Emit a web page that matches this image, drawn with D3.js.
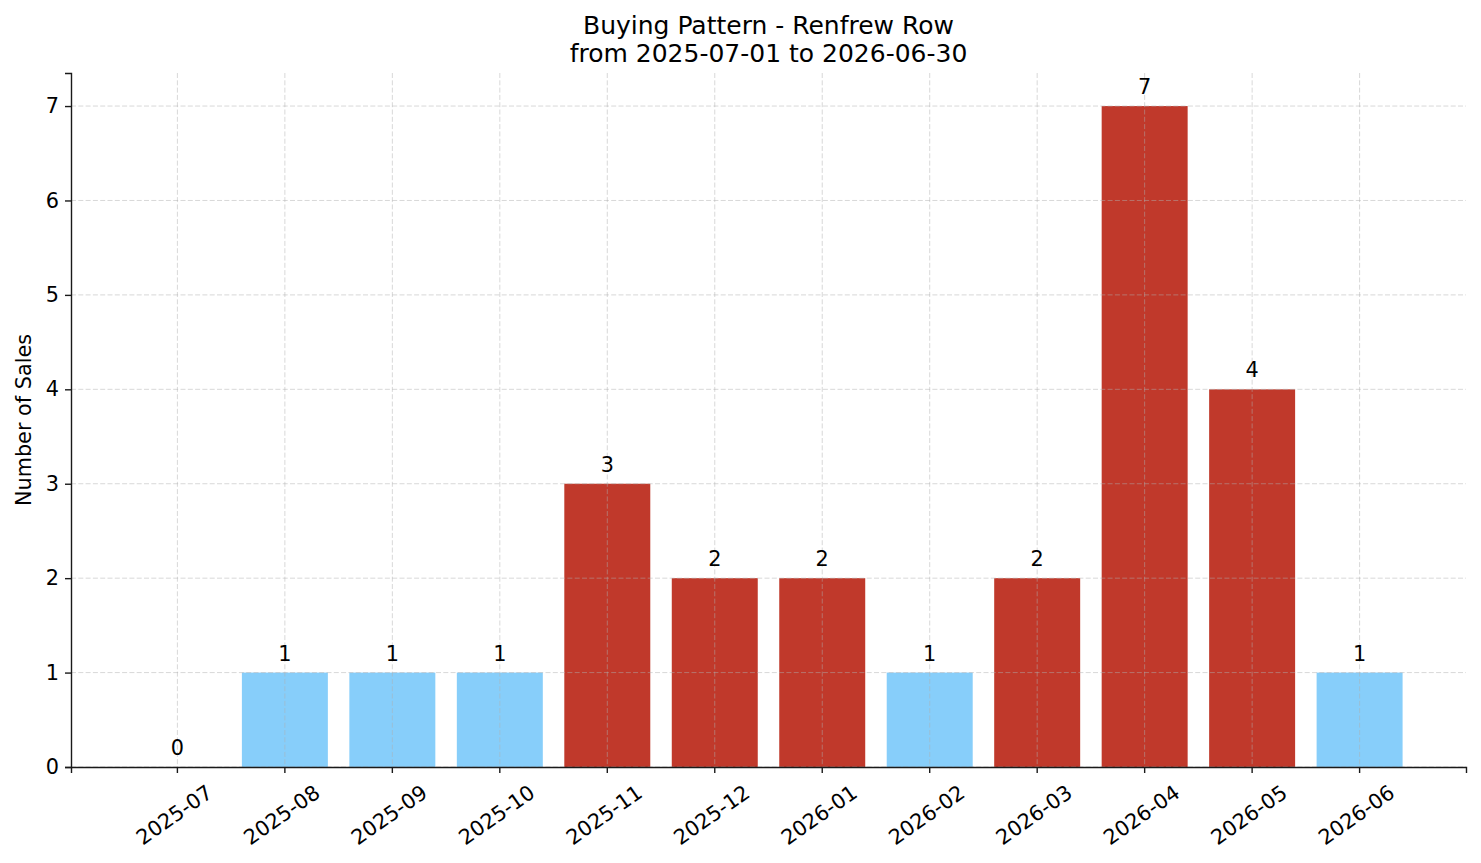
<!DOCTYPE html>
<html>
<head>
<meta charset="utf-8">
<script src="https://cdn.jsdelivr.net/npm/d3@7"></script>
<style>
  body { margin: 0; background: #fff; }
  text { font-family: "DejaVu Sans", sans-serif; fill: #000; }
</style>
</head>
<body>
<div id="chart"></div>
<script>
var w = 1481; // page width
var h = 863;  // page height
var margin = { left: 71, right: 15, top: 73, bottom: 96 };
var fontSize = "20.8px";

// Data
var months = ["2025-07", "2025-08", "2025-09", "2025-10", "2025-11", "2025-12",
              "2026-01", "2026-02", "2026-03", "2026-04", "2026-05", "2026-06"];
var sales = [0, 1, 1, 1, 3, 2, 2, 1, 2, 7, 4, 1];
var yTicks = [0, 1, 2, 3, 4, 5, 6, 7];
var titleLines = ["Buying Pattern - Renfrew Row", "from 2025-07-01 to 2026-06-30"];

var svg = d3.select("#chart")
    .append("svg")
    .attr("width", w)
    .attr("height", h);

var xScale = d3.scaleBand()
    .domain(months)
    .range([margin.left, w - margin.right])
    .paddingInner(0.2)
    .paddingOuter(0.59);

var yScale = d3.scaleLinear()
    .domain([0, d3.max(sales) * 1.05])
    .range([h - margin.bottom, margin.top]);

// Bars
svg.selectAll("rect.bar")
    .data(months)
    .enter()
    .append("rect")
    .attr("class", "bar")
    .attr("x", function(d) { return xScale(d); })
    .attr("y", function(d, i) { return yScale(sales[i]); })
    .attr("width", xScale.bandwidth())
    .attr("height", function(d, i) { return yScale(0) - yScale(sales[i]); })
    .attr("fill", function(d, i) { return sales[i] >= 2 ? "#c0392b" : "#87cefa"; });

// Grid lines (drawn over the bars like the original)
var grid = svg.append("g").attr("class", "grid");
grid.selectAll("line.hg")
    .data(yTicks)
    .enter()
    .append("line")
    .attr("x1", margin.left)
    .attr("x2", w - margin.right)
    .attr("y1", function(d) { return yScale(d); })
    .attr("y2", function(d) { return yScale(d); });
grid.selectAll("line.vg")
    .data(months)
    .enter()
    .append("line")
    .attr("x1", function(d) { return xScale(d) + xScale.bandwidth() / 2; })
    .attr("x2", function(d) { return xScale(d) + xScale.bandwidth() / 2; })
    .attr("y1", margin.top)
    .attr("y2", h - margin.bottom);
grid.selectAll("line")
    .attr("stroke", "#b0b0b0")
    .attr("stroke-opacity", 0.55)
    .attr("stroke-width", 0.9)
    .attr("stroke-dasharray", "5,2.3");

// Value labels
svg.selectAll("text.val")
    .data(months)
    .enter()
    .append("text")
    .attr("class", "val")
    .attr("x", function(d) { return xScale(d) + xScale.bandwidth() / 2; })
    .attr("y", function(d, i) { return yScale(sales[i] + 0.1) - 2.5; })
    .attr("text-anchor", "middle")
    .style("font-size", fontSize)
    .text(function(d, i) { return sales[i]; });

// Axes
var xAxis = svg.append("g")
    .attr("transform", "translate(0," + (h - margin.bottom) + ")")
    .call(d3.axisBottom(xScale).tickSizeOuter(0).tickSize(6).tickPadding(6));
xAxis.selectAll("text")
    .style("font-size", fontSize)
    .attr("text-anchor", "middle")
    .attr("dy", null)
    .attr("y", null)
    .attr("dominant-baseline", "central")
    .attr("transform", "translate(-3,48) rotate(-35)");

var yAxis = svg.append("g")
    .attr("transform", "translate(" + margin.left + ",0)")
    .call(d3.axisLeft(yScale).tickValues(yTicks).tickSizeOuter(0).tickSize(6).tickPadding(6));
yAxis.selectAll("text").style("font-size", fontSize);

svg.selectAll(".domain").attr("stroke", "#1a1a1a").attr("stroke-width", 1.4);
svg.selectAll(".tick line").attr("stroke", "#1a1a1a").attr("stroke-width", 1.4);
svg.selectAll(".tick text").attr("fill", "#000").style("font-family", "DejaVu Sans");

// Axis label
svg.append("text")
    .attr("transform", "translate(31," + ((margin.top + h - margin.bottom) / 2) + ") rotate(-90)")
    .attr("text-anchor", "middle")
    .style("font-size", fontSize)
    .text("Number of Sales");

// Title
svg.selectAll("text.title")
    .data(titleLines)
    .enter()
    .append("text")
    .attr("class", "title")
    .attr("x", (margin.left + w - margin.right) / 2)
    .attr("y", function(d, i) { return 34 + i * 28; })
    .attr("text-anchor", "middle")
    .style("font-size", "25px")
    .text(function(d) { return d; });
</script>
</body>
</html>
